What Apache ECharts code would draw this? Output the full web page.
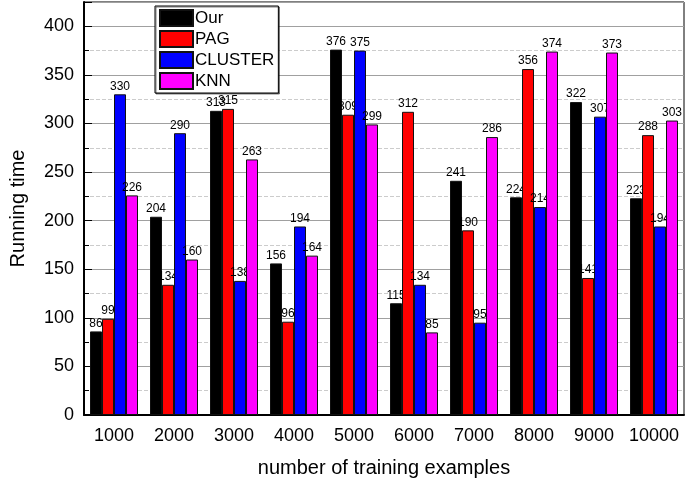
<!DOCTYPE html>
<html><head><meta charset="utf-8">
<script src="https://cdn.jsdelivr.net/npm/echarts@6/dist/echarts.min.js"></script>
<style>html,body{margin:0;padding:0;background:#fff}#c{width:685px;height:485px}</style>
</head><body><div id="c"></div>
<script>
const categories = ['1000','2000','3000','4000','5000','6000','7000','8000','9000','10000'];
const seriesNames = ['Our','PAG','CLUSTER','KNN'];
const ourVals = [86,204,313,156,376,115,241,224,322,223];
const pagVals = [99,134,315,96,309,312,190,356,141,288];
const clusterVals = [330,290,138,194,375,134,95,214,307,194];
const knnVals = [226,160,263,164,299,85,286,374,373,303];
const colors = ['#000000','#ff0000','#0000ff','#ff00ff'];
const allVals = [ourVals, pagVals, clusterVals, knnVals];

const font = 'Liberation Sans, Arial, sans-serif';
const chart = echarts.init(document.getElementById('c'), null, {renderer:'canvas'});
chart.setOption({
  animation:false,
  backgroundColor:'#fff',
  grid:{left:82,right:1,top:2,bottom:70,show:true,borderColor:'#000',borderWidth:1},
  legend:{
    orient:'vertical', left:155, top:6, itemWidth:33, itemHeight:16, itemGap:3, icon:'rect',
    padding:[3,4,3,4], borderColor:'#000', borderWidth:1, backgroundColor:'#fff',
    shadowColor:'rgba(0,0,0,0.5)', shadowOffsetX:1, shadowOffsetY:1, shadowBlur:0,
    textStyle:{fontFamily:font,fontSize:17,color:'#000',padding:[0,0,0,-3]},
    data:seriesNames
  },
  xAxis:{
    type:'category', data:categories,
    axisLine:{lineStyle:{color:'#000',width:2}},
    axisTick:{show:false},
    axisLabel:{interval:0,fontFamily:font,fontSize:18,color:'#000',margin:12},
    name:'number of training examples', nameLocation:'middle', nameGap:43,
    nameTextStyle:{fontFamily:font,fontSize:20,color:'#000'}
  },
  yAxis:{
    type:'value', min:0, max:425, interval:50,
    axisLine:{show:true,lineStyle:{color:'#000',width:2}},
    axisTick:{show:true,inside:true,length:8,lineStyle:{color:'#000',width:1}},
    minorTick:{show:true,splitNumber:2,length:5,lineStyle:{color:'#000'}},
    splitLine:{show:true,lineStyle:{color:'#a0a0a0',width:1}},
    minorSplitLine:{show:true,lineStyle:{color:'#cccccc',width:1,type:'dashed'}},
    axisLabel:{fontFamily:font,fontSize:18,color:'#000',margin:10,showMaxLabel:false},
    name:'Running time', nameLocation:'middle', nameGap:56, nameRotate:90,
    nameTextStyle:{fontFamily:font,fontSize:20,color:'#000'}
  },
  series: seriesNames.map((n,i)=>({
    name:n, type:'bar', data:allVals[i], z:2+i,
    barGap:'0%', barCategoryGap:'20%',
    itemStyle:{color:colors[i],borderColor:'#111',borderWidth:1},
    label:{show:true,position:'top',distance:2,fontFamily:font,fontSize:12,color:'#000'}
  }))
});
</script></body></html>
